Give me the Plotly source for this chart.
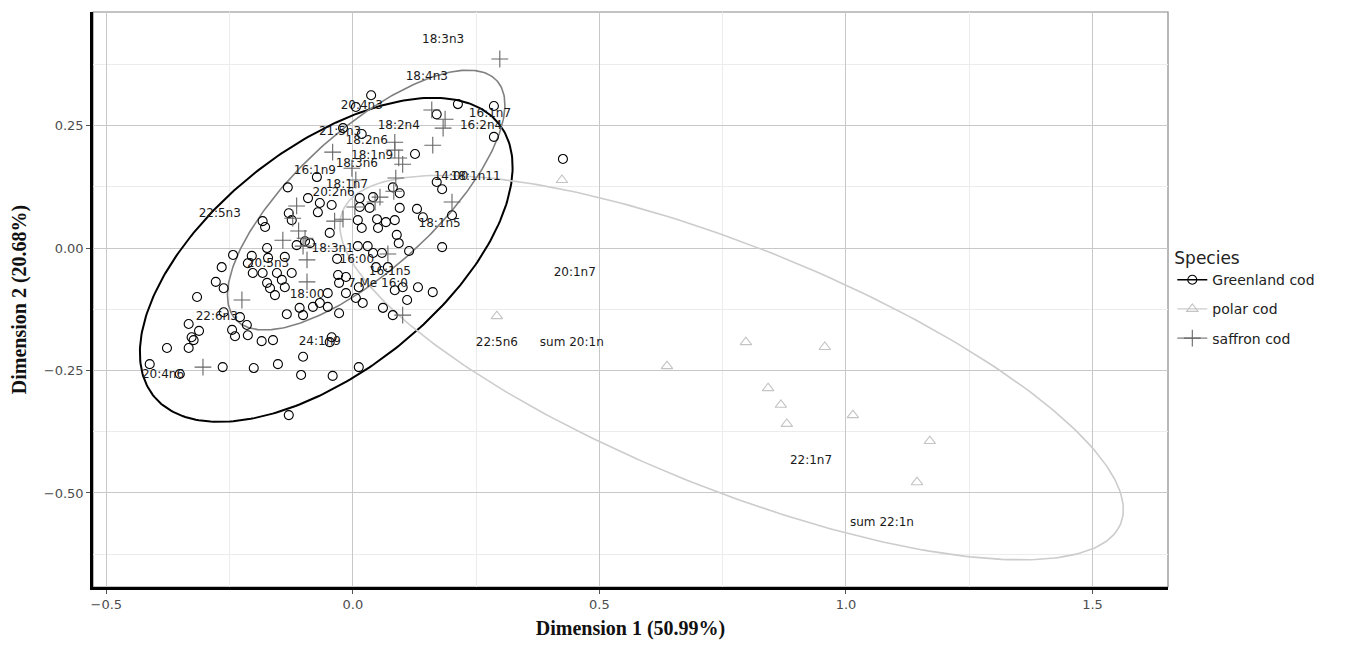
import numpy as np
import plotly.graph_objects as go

# ---------------- data ----------------
greenland_x = [0.037, 0.213, 0.286, 0.170, 0.286, 0.126, 0.018, 0.426, 0.170, 0.181,
               0.081, 0.095, -0.132, -0.073, -0.091, -0.067, -0.043, -0.071, 0.014, 0.041,
               0.014, 0.034, 0.095, 0.130, 0.142, 0.201, 0.010, 0.049, 0.085, 0.067,
               0.018, 0.051, -0.047, 0.089, 0.093, 0.010, 0.030, 0.181, -0.130, -0.124,
               -0.183, -0.178, -0.097, -0.087, -0.114, 0.114, 0.041, 0.059, -0.032, -0.243,
               -0.205, -0.174, -0.138, -0.172, -0.203, -0.183, -0.154, -0.124, -0.213, -0.266,
               -0.278, -0.262, -0.174, -0.144, -0.138, -0.168, -0.158, -0.316, -0.030, -0.014,
               -0.028, 0.012, -0.014, 0.006, 0.020, 0.047, 0.071, 0.085, 0.101, 0.110,
               0.132, 0.162, 0.061, 0.081, -0.028, -0.051, -0.051, -0.067, -0.081, -0.108,
               -0.101, -0.134, -0.262, -0.229, -0.215, -0.245, -0.239, -0.213, -0.185, -0.162,
               -0.333, -0.312, -0.327, -0.323, -0.377, -0.333, -0.412, -0.264, -0.201, -0.152,
               -0.101, -0.105, -0.130, -0.043, -0.047, 0.012, -0.041, -0.351, 0.006, -0.020]
greenland_y = [0.312, 0.294, 0.290, 0.273, 0.227, 0.192, 0.233, 0.182, 0.135, 0.120,
               0.124, 0.112, 0.124, 0.145, 0.102, 0.092, 0.088, 0.073, 0.102, 0.104,
               0.084, 0.082, 0.082, 0.080, 0.063, 0.067, 0.057, 0.059, 0.057, 0.053,
               0.041, 0.041, 0.031, 0.027, 0.010, 0.004, 0.004, 0.002, 0.071, 0.057,
               0.055, 0.043, 0.014, 0.010, 0.006, -0.006, -0.010, -0.010, -0.022, -0.014,
               -0.016, 0.000, -0.018, -0.020, -0.051, -0.051, -0.051, -0.051, -0.031, -0.039,
               -0.069, -0.082, -0.071, -0.065, -0.080, -0.082, -0.096, -0.100, -0.055, -0.059,
               -0.071, -0.080, -0.092, -0.102, -0.112, -0.039, -0.039, -0.086, -0.080, -0.106,
               -0.080, -0.090, -0.122, -0.137, -0.133, -0.092, -0.120, -0.112, -0.120, -0.122,
               -0.137, -0.135, -0.131, -0.141, -0.157, -0.167, -0.180, -0.178, -0.190, -0.188,
               -0.155, -0.169, -0.182, -0.188, -0.204, -0.204, -0.237, -0.243, -0.245, -0.237,
               -0.222, -0.259, -0.341, -0.182, -0.192, -0.243, -0.261, -0.257, 0.288, 0.245]

polar_x = [0.424, 0.292, 0.637, 0.797, 0.957, 0.842, 0.868, 0.880, 1.014, 1.170, 1.144]
polar_y = [0.139, -0.139, -0.241, -0.192, -0.202, -0.286, -0.320, -0.359, -0.341, -0.394, -0.478]

saffron_x = [0.298, 0.160, 0.187, 0.183, 0.162, 0.085, 0.085, 0.093, 0.101, 0.087,
             0.083, 0.055, 0.045, 0.201, -0.041, -0.002, 0.006, -0.114, -0.122, -0.110,
             -0.097, -0.142, -0.037, -0.020, 0.004, -0.093, -0.093, -0.225, -0.304, 0.101,
             0.071, -0.101]
saffron_y = [0.386, 0.282, 0.263, 0.245, 0.210, 0.216, 0.200, 0.184, 0.171, 0.143,
             0.116, 0.104, 0.094, 0.094, 0.196, 0.163, 0.139, 0.086, 0.061, 0.035,
             0.020, 0.016, 0.055, 0.059, 0.084, -0.024, -0.069, -0.106, -0.243, -0.137,
             -0.012, 0.004]

var_labels = ["18:3n3", "18:4n3", "20:4n3", "16:1n7", "16:2n4", "18:2n4", "21:5n3", "18:2n6",
              "18:1n9", "18:3n6", "16:1n9", "18:1n7", "20:2n6", "14:00", "18:1n11", "22:5n3",
              "18:1n5", "18:3n1", "16:00", "20:5n3", "16:1n5", "7 Me 16:0", "18:00", "22:6n3",
              "24:1n9", "20:4n6", "20:1n7", "22:5n6", "sum 20:1n", "22:1n7", "sum 22:1n"]
var_x = [0.183, 0.150, 0.018, 0.278, 0.260, 0.093, -0.026, 0.028,
         0.039, 0.008, -0.077, -0.012, -0.039, 0.199, 0.249, -0.270,
         0.176, -0.041, 0.008, -0.172, 0.075, 0.051, -0.093, -0.276,
         -0.067, -0.385, 0.450, 0.292, 0.444, 0.929, 1.073]
var_y = [0.424, 0.349, 0.290, 0.273, 0.249, 0.249, 0.237, 0.218,
         0.188, 0.171, 0.157, 0.129, 0.112, 0.145, 0.145, 0.069,
         0.049, -0.002, -0.024, -0.033, -0.049, -0.073, -0.096, -0.141,
         -0.192, -0.259, -0.051, -0.194, -0.194, -0.435, -0.561]

species = ["Greenland cod", "polar cod", "saffron cod"]
# ellipse parameters per species: centre x, centre y, semi-major, semi-minor, angle (deg)
ell_cx = [-0.054, 0.768, 0.027]
ell_cy = [-0.024, -0.244, 0.098]
ell_a = [0.447, 0.851, 0.360]
ell_b = [0.229, 0.247, 0.141]
ell_ang = [38.45, -22.0, 42.7]

# ---------------- styles ----------------
colors = ["#000000", "#c4c4c4", "#666666"]
ell_colors = ["#000000", "#cccccc", "#808080"]
ell_widths = [2.0, 1.6, 1.6]
symbols = ["circle-open", "triangle-up-open", "cross-thin-open"]
msizes = [9, 10, 12]
SANS = "DejaVu Sans, Liberation Sans, Arial"
SERIF = "Liberation Serif, Times New Roman"

fig = go.Figure()

pts = [(greenland_x, greenland_y), (polar_x, polar_y), (saffron_x, saffron_y)]

t = np.linspace(0, 2 * np.pi, 300)
for i in range(3):
    th = np.deg2rad(ell_ang[i])
    ex = ell_cx[i] + ell_a[i] * np.cos(t) * np.cos(th) - ell_b[i] * np.sin(t) * np.sin(th)
    ey = ell_cy[i] + ell_a[i] * np.cos(t) * np.sin(th) + ell_b[i] * np.sin(t) * np.cos(th)
    fig.add_trace(go.Scatter(x=ex, y=ey, mode="lines",
                             line=dict(color=ell_colors[i], width=ell_widths[i]),
                             showlegend=False, hoverinfo="skip"))

for i in range(3):
    fig.add_trace(go.Scatter(x=pts[i][0], y=pts[i][1], mode="markers",
                             marker=dict(symbol=symbols[i], size=msizes[i], color=colors[i],
                                         line=dict(width=1.1, color=colors[i])),
                             showlegend=False, name=species[i]))

# text labels for variables
fig.add_trace(go.Scatter(x=var_x, y=var_y, mode="text", text=var_labels,
                         textfont=dict(family=SANS, size=12, color="#1a1a1a"),
                         showlegend=False, hoverinfo="skip"))

# legend entries (line + marker like ggplot)
for i in range(3):
    fig.add_trace(go.Scatter(x=[None], y=[None], mode="lines+markers", name=species[i],
                             legendgroup=species[i],
                             line=dict(color=ell_colors[i], width=1.4),
                             marker=dict(symbol=symbols[i], size=msizes[i], color=colors[i],
                                         line=dict(width=1.1, color=colors[i]))))

axis_common = dict(
    showgrid=True, gridcolor="#c8c8c8", gridwidth=1.2,
    zeroline=False, ticks="outside", ticklen=4, tickcolor="#555555",
    tickfont=dict(family=SANS, size=13, color="#4d4d4d"),
    showline=True, linecolor="#000000", linewidth=2.5, mirror=False,
)

fig.update_layout(
    width=1345, height=647,
    margin=dict(l=93, r=177, t=12, b=60),
    paper_bgcolor="white", plot_bgcolor="white",
    xaxis=dict(range=[-0.527, 1.653], dtick=0.5, tick0=0, tickformat=".1f",
               minor=dict(showgrid=True, gridcolor="#ececec", gridwidth=0.8, dtick=0.25),
               title=dict(text="<b>Dimension 1 (50.99%)</b>",
                          font=dict(family=SERIF, size=20, color="#111"),
                          standoff=10),
               **axis_common),
    yaxis=dict(range=[-0.692, 0.482], dtick=0.25, tick0=0, tickformat=".2f",
               minor=dict(showgrid=True, gridcolor="#ececec", gridwidth=0.8, dtick=0.125),
               title=dict(text="<b>Dimension 2 (20.68%)</b>",
                          font=dict(family=SERIF, size=20, color="#111"),
                          standoff=12),
               **axis_common),
    legend=dict(x=1.004, y=0.6, xanchor="left", yanchor="top",
                title=dict(text="Species", font=dict(family=SANS, size=17, color="#222")),
                font=dict(family=SANS, size=14, color="#222"),
                itemwidth=30, tracegroupgap=8),
    showlegend=True,
)

# panel border on top/right (gray)
fig.add_shape(type="rect", xref="paper", yref="paper", x0=0, y0=0, x1=1, y1=1,
              line=dict(color="#888888", width=1.2), layer="below")

fig.write_html("out.html")
